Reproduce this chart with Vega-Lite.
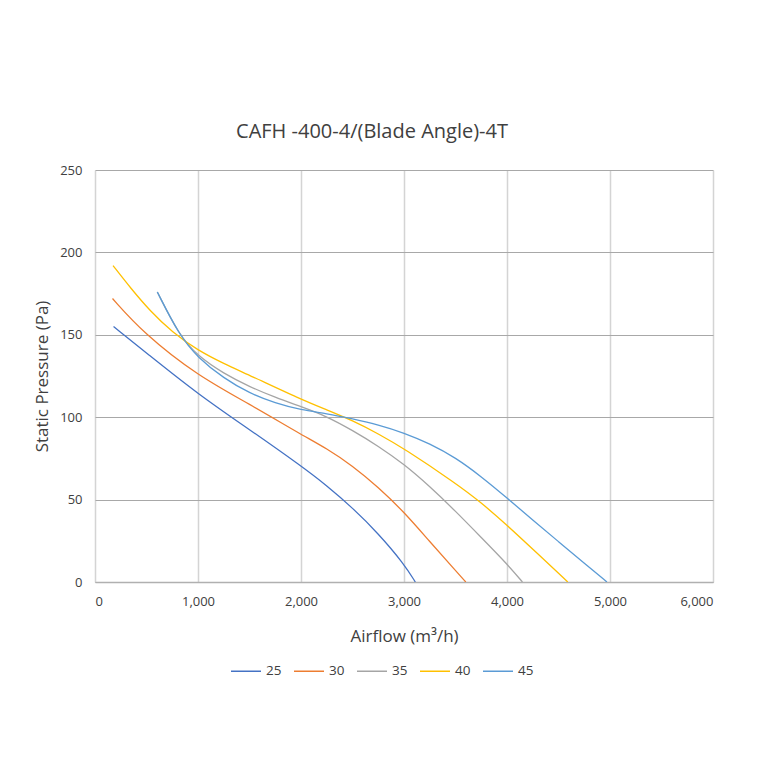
{
  "$schema": "https://vega.github.io/schema/vega-lite/v6.json",
  "autosize": "none",
  "width": 618,
  "height": 412,
  "padding": {"left": 95, "top": 170, "right": 47, "bottom": 178},
  "background": "white",
  "title": {
    "text": "CAFH -400-4/(Blade Angle)-4T",
    "fontSize": 20,
    "font": "Open Sans",
    "fontWeight": "normal",
    "color": "#404040",
    "offset": 22,
    "dx": -32
  },
  "data": {
    "values": [
      {"angle": "25", "airflow": 180, "pressure": 155},
      {"angle": "25", "airflow": 500, "pressure": 139},
      {"angle": "25", "airflow": 1000, "pressure": 114},
      {"angle": "25", "airflow": 1500, "pressure": 92.5},
      {"angle": "25", "airflow": 2000, "pressure": 70.5},
      {"angle": "25", "airflow": 2250, "pressure": 58.5},
      {"angle": "25", "airflow": 2500, "pressure": 45},
      {"angle": "25", "airflow": 2750, "pressure": 29.5},
      {"angle": "25", "airflow": 3000, "pressure": 11},
      {"angle": "25", "airflow": 3110, "pressure": 0},
      {"angle": "30", "airflow": 170, "pressure": 172},
      {"angle": "30", "airflow": 470, "pressure": 151},
      {"angle": "30", "airflow": 1000, "pressure": 125},
      {"angle": "30", "airflow": 1500, "pressure": 108},
      {"angle": "30", "airflow": 2000, "pressure": 89.5},
      {"angle": "30", "airflow": 2250, "pressure": 81},
      {"angle": "30", "airflow": 2500, "pressure": 70.5},
      {"angle": "30", "airflow": 2750, "pressure": 57.5},
      {"angle": "30", "airflow": 3000, "pressure": 42.5},
      {"angle": "30", "airflow": 3250, "pressure": 24.5},
      {"angle": "30", "airflow": 3500, "pressure": 7},
      {"angle": "30", "airflow": 3600, "pressure": 0},
      {"angle": "35", "airflow": 605, "pressure": 176},
      {"angle": "35", "airflow": 815, "pressure": 150},
      {"angle": "35", "airflow": 1000, "pressure": 137},
      {"angle": "35", "airflow": 1250, "pressure": 126.5},
      {"angle": "35", "airflow": 1500, "pressure": 118.5},
      {"angle": "35", "airflow": 1750, "pressure": 112},
      {"angle": "35", "airflow": 2000, "pressure": 106.4},
      {"angle": "35", "airflow": 2250, "pressure": 100.5},
      {"angle": "35", "airflow": 2500, "pressure": 92},
      {"angle": "35", "airflow": 2750, "pressure": 82.5},
      {"angle": "35", "airflow": 3000, "pressure": 71.5},
      {"angle": "35", "airflow": 3250, "pressure": 58},
      {"angle": "35", "airflow": 3500, "pressure": 43},
      {"angle": "35", "airflow": 3750, "pressure": 27},
      {"angle": "35", "airflow": 4000, "pressure": 11},
      {"angle": "35", "airflow": 4150, "pressure": 0},
      {"angle": "40", "airflow": 175, "pressure": 192},
      {"angle": "40", "airflow": 350, "pressure": 178},
      {"angle": "40", "airflow": 534, "pressure": 164.5},
      {"angle": "40", "airflow": 750, "pressure": 151.5},
      {"angle": "40", "airflow": 1000, "pressure": 140.5},
      {"angle": "40", "airflow": 1250, "pressure": 132.5},
      {"angle": "40", "airflow": 1500, "pressure": 125.5},
      {"angle": "40", "airflow": 2000, "pressure": 110.8},
      {"angle": "40", "airflow": 2250, "pressure": 104.5},
      {"angle": "40", "airflow": 2500, "pressure": 98},
      {"angle": "40", "airflow": 2750, "pressure": 90},
      {"angle": "40", "airflow": 3000, "pressure": 81},
      {"angle": "40", "airflow": 3500, "pressure": 60},
      {"angle": "40", "airflow": 3740, "pressure": 48.7},
      {"angle": "40", "airflow": 4000, "pressure": 34.5},
      {"angle": "40", "airflow": 4300, "pressure": 17},
      {"angle": "40", "airflow": 4590, "pressure": 0},
      {"angle": "45", "airflow": 605, "pressure": 176},
      {"angle": "45", "airflow": 815, "pressure": 150},
      {"angle": "45", "airflow": 1000, "pressure": 136},
      {"angle": "45", "airflow": 1250, "pressure": 123.6},
      {"angle": "45", "airflow": 1500, "pressure": 114.5},
      {"angle": "45", "airflow": 1750, "pressure": 108.5},
      {"angle": "45", "airflow": 2000, "pressure": 104.4},
      {"angle": "45", "airflow": 2250, "pressure": 102.2},
      {"angle": "45", "airflow": 2500, "pressure": 99},
      {"angle": "45", "airflow": 2750, "pressure": 95.5},
      {"angle": "45", "airflow": 3000, "pressure": 90.5},
      {"angle": "45", "airflow": 3250, "pressure": 84},
      {"angle": "45", "airflow": 3500, "pressure": 75.5},
      {"angle": "45", "airflow": 3750, "pressure": 64},
      {"angle": "45", "airflow": 4000, "pressure": 51},
      {"angle": "45", "airflow": 4250, "pressure": 37.5},
      {"angle": "45", "airflow": 4500, "pressure": 24.5},
      {"angle": "45", "airflow": 4750, "pressure": 11.5},
      {"angle": "45", "airflow": 4970, "pressure": 0}
    ]
  },
  "mark": {"type": "line", "interpolate": "basis", "strokeWidth": 1.3, "clip": true},
  "encoding": {
    "x": {
      "field": "airflow",
      "type": "quantitative",
      "scale": {"domain": [0, 6000], "nice": false},
      "axis": {
        "title": "Airflow (m³/h)",
        "values": [0, 1000, 2000, 3000, 4000, 5000, 6000],
        "format": ",d",
        "titlePadding": 20,
        "gridColor": "#d4d4d4",
        "gridWidth": 1.5,
        "domainColor": "#b0b0b0",
        "domainWidth": 1.5,
        "ticks": false,
        "labelPadding": 13
      }
    },
    "y": {
      "field": "pressure",
      "type": "quantitative",
      "scale": {"domain": [0, 250], "nice": false},
      "axis": {
        "title": "Static Pressure (Pa)",
        "values": [0, 50, 100, 150, 200, 250],
        "titlePadding": 8,
        "gridColor": "#a8a8a8",
        "gridWidth": 1,
        "domain": false,
        "ticks": false,
        "labelPadding": 13
      }
    },
    "color": {
      "field": "angle",
      "type": "nominal",
      "scale": {
        "domain": ["25", "30", "35", "40", "45"],
        "range": ["#4472C4", "#ED7D31", "#A5A5A5", "#FFC000", "#5B9BD5"]
      },
      "legend": {
        "title": null,
        "orient": "none",
        "legendX": 135,
        "legendY": 485,
        "direction": "horizontal",
        "symbolType": "stroke",
        "symbolSize": 900,
        "symbolStrokeWidth": 1.5,
        "labelFontSize": 13.5,
        "columnPadding": 9,
        "labelOffset": 4
      }
    }
  },
  "config": {
    "font": "Open Sans",
    "view": {"stroke": null},
    "axis": {
      "labelFontSize": 13,
      "labelColor": "#404040",
      "titleFontSize": 17,
      "titleFontWeight": "normal",
      "titleColor": "#404040"
    },
    "legend": {"labelColor": "#404040"}
  }
}
